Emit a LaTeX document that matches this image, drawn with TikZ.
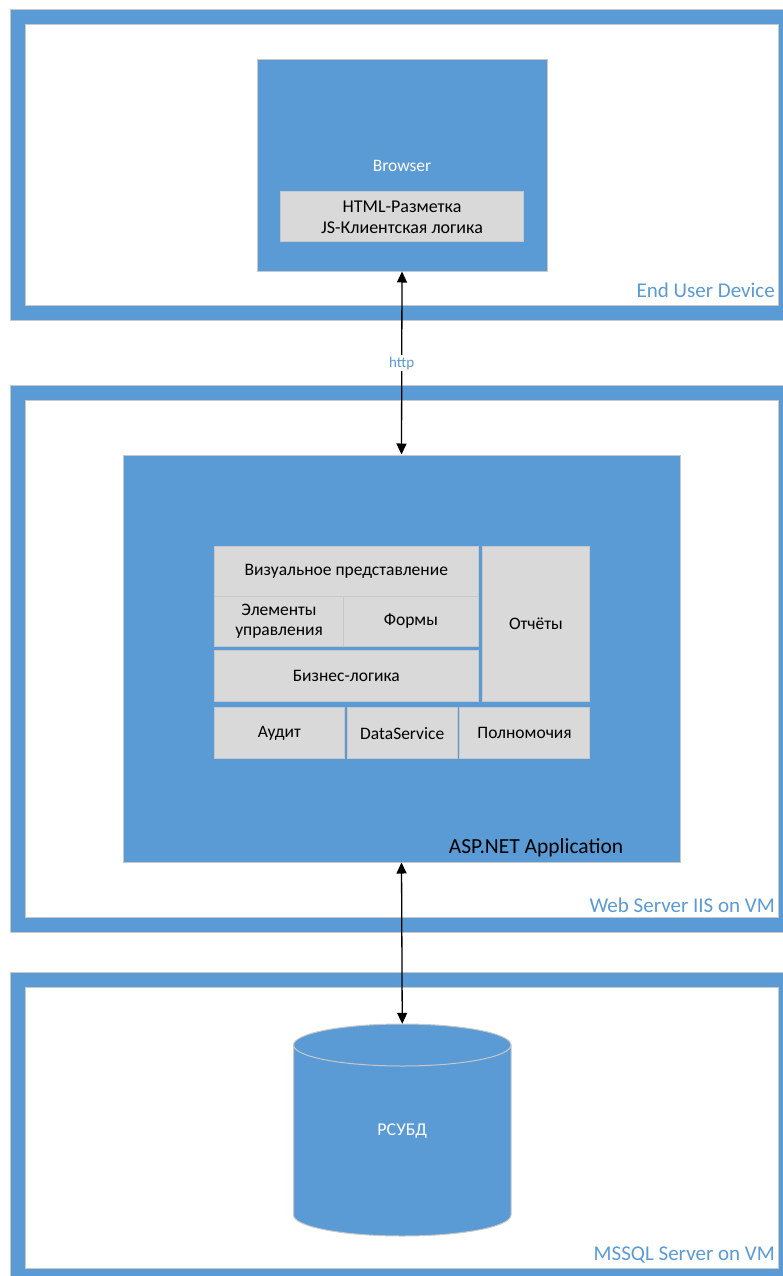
\documentclass[tikz,border=0pt]{standalone}
\usepackage{fontspec}
\setmainfont{Carlito}
\usetikzlibrary{arrows.meta,fit}
\definecolor{vblue}{HTML}{5B9BD5}
\definecolor{vgrey}{HTML}{D9D9D9}
\definecolor{vedge}{HTML}{C8C8C8}
\tikzset{
  frameout/.style={draw=vedge, line width=1pt, fill=vblue, inner sep=0pt},
  framein/.style={draw=vedge, line width=1pt, fill=white, inner sep=0pt},
  bluebox/.style={draw=vedge, line width=1pt, fill=vblue, inner sep=0pt},
  gbox/.style={draw=vedge, line width=0.8pt, fill=vgrey, inner sep=0pt, anchor=north west, align=center, font=\fontsize{17.5}{20.5}\selectfont, text=black},
  framelabel/.style={anchor=base east, text=vblue, font=\fontsize{21}{25}\selectfont, inner sep=0pt},
  conn/.style={line width=1.3pt, {Triangle[length=11pt,width=10pt]}-{Triangle[length=11pt,width=10pt]}},
}
\begin{document}
\begin{tikzpicture}[x=1pt,y=-1pt]
\useasboundingbox (0,0) rectangle (783,1276);
% Frame 1
\node[frameout, fit={(10,10) (792,320)}] (f1o) {};
\node[framein, fit={(25,25) (778,305)}] (f1i) {};
\node[framelabel] (l1) at (775,297) {End User Device};
% Browser
\node[bluebox, fit={(257,60) (547,271)}] (browser) {};
\node[anchor=base, text=white, font=\fontsize{17.5}{20}\selectfont, inner sep=0pt] (btxt) at (402,171.5) {Browser};
\node[draw=vedge, line width=0.8pt, fill=vgrey, inner sep=0pt, fit={(280.5,191) (523.5,241)}] (html) {};
\node[anchor=base, font=\fontsize{18}{21}\selectfont, inner sep=0pt] (htmltxt) at (402,212.5) {HTML-Разметка};
\node[anchor=base, font=\fontsize{18}{21}\selectfont, inner sep=0pt] (jstxt) at (402,233.5) {JS-Клиентская логика};
% Frame 2
\node[frameout, fit={(10,385) (792,932)}] (f2o) {};
\node[framein, fit={(25,400) (778,917)}] (f2i) {};
\node[framelabel] (l2) at (775,912.5) {Web Server IIS on VM};
% ASP.NET
\node[bluebox, fit={(123,455) (680,862)}] (asp) {};
\node[anchor=base, font=\fontsize{21.5}{25}\selectfont, inner sep=0pt] (asptxt) at (536,853) {ASP.NET Application};
% Grid
\node[gbox, minimum width=263.7pt, minimum height=49.5pt] (vis) at (214,546) {Визуальное представление};
\node[gbox, minimum width=129.3pt, minimum height=50.5pt] (elem) at (214,595.5) {Элементы\\управления};
\node[gbox, minimum width=134.4pt, minimum height=50.5pt] (forms) at (343.3,595.5) {Формы};
\node[gbox, minimum width=263.7pt, minimum height=50.5pt] (biz) at (214,650) {Бизнес-логика};
\node[gbox, minimum width=107pt, minimum height=155pt] (rep) at (482,546) {Отчёты};
\node[gbox, minimum width=130pt, minimum height=51pt] (audit) at (214,707.3) {Аудит};
\node[gbox, minimum width=109.7pt, minimum height=51pt] (ds) at (347,707.3) {DataService};
\node[gbox, minimum width=129.7pt, minimum height=51pt] (perm) at (459.3,707.3) {Полномочия};
% Frame 3
\node[frameout, fit={(10,972) (792,1290)}] (f3o) {};
\node[framein, fit={(25,987) (778,1268)}] (f3i) {};
\node[framelabel] (l3) at (775,1260.5) {MSSQL Server on VM};
% Cylinder
\fill[vblue, draw=vedge, line width=1pt] (293.5,1045) -- (293.5,1215) arc[start angle=180, end angle=360, x radius=108.75pt, y radius=21pt] -- (511,1045) arc[start angle=0, end angle=180, x radius=108.75pt, y radius=21pt] -- cycle;
\draw[vedge, line width=1pt] (293.5,1045) arc[start angle=180, end angle=360, x radius=108.75pt, y radius=21pt];
\node[inner sep=0pt, minimum width=217.5pt, minimum height=212pt] (db) at (402.25,1130) {};
\node[text=white, font=\fontsize{18}{21}\selectfont, inner sep=0pt] (dbtxt) at (402.25,1131) {РСУБД};
% Connectors
\draw[conn] (browser.south) -- node[fill=white, text=vblue, font=\fontsize{15}{17}\selectfont, inner sep=1.5pt] (http) {http} (asp.north);
\draw[conn] (asp.south) -- (db.north);
\end{tikzpicture}
\end{document}
